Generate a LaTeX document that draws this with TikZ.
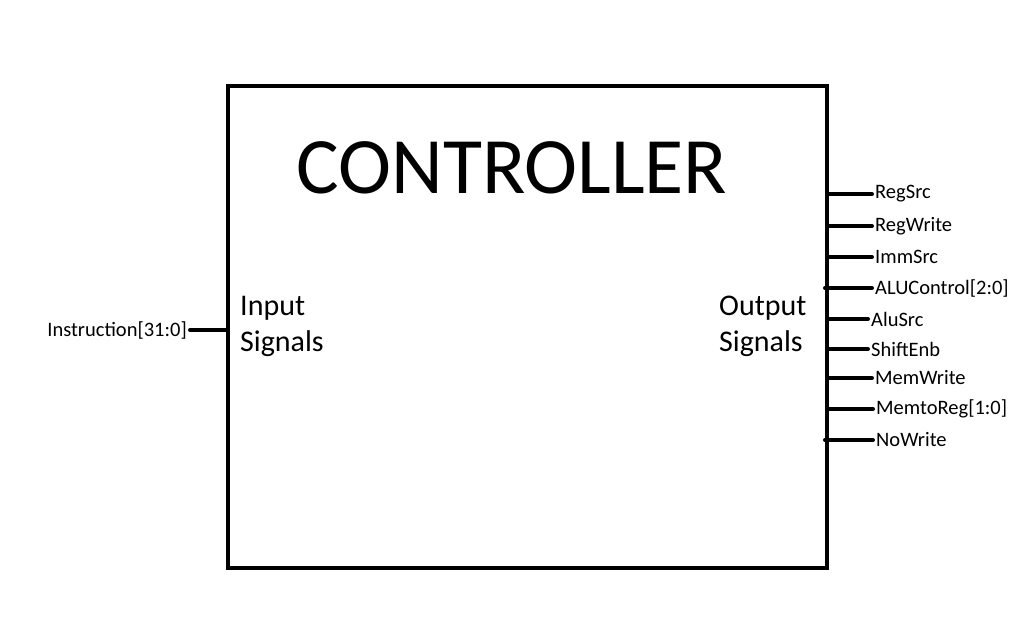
\documentclass[tikz,border=0pt]{standalone}
\usepackage{fontspec}
\setmainfont{Carlito}
\usepackage{tikz}

\begin{document}
\begin{tikzpicture}[x=1pt,y=-1pt,
  sig/.style={anchor=west,inner sep=3pt,font=\fontsize{20.5}{24}\selectfont},
  wire/.style={line width=4pt,line cap=round}]
\useasboundingbox (0,0) rectangle (1026,618);
\node [draw,line width=4pt,minimum width=599pt,minimum height=482pt,inner sep=0pt] (ctrl) at (527.5,327) {};
\node [anchor=base,font=\fontsize{80}{90}\selectfont] (title) at (512,193) {CONTROLLER};
\node [anchor=north west,align=left,inner sep=0pt,font=\fontsize{30}{36}\selectfont] (in) at (240,296) {Input\\Signals};
\node [anchor=north west,align=left,inner sep=0pt,font=\fontsize{30}{36}\selectfont] (out) at (719,296) {Output\\Signals};
% input
\node [sig,anchor=east] (instr) at (190,330) {Instruction[31:0]};
\draw [wire] (instr.east) -- (ctrl.west |- instr.east);
% outputs
\node [sig] (regsrc) at (872,194) {RegSrc};
\node [sig] (regwrite) at (872,226) {RegWrite};
\node [sig] (immsrc) at (872,257) {ImmSrc};
\node [sig] (aluctrl) at (872,288) {ALUControl[2:0]};
\node [sig] (alusrc) at (868,319) {AluSrc};
\node [sig] (shift) at (868,349) {ShiftEnb};
\node [sig] (memwrite) at (872,378) {MemWrite};
\node [sig] (memtoreg) at (873,409) {MemtoReg[1:0]};
\node [sig] (nowrite) at (873,440) {NoWrite};
\draw [wire] (ctrl.east |- regsrc.west) -- (regsrc.west);
\draw [wire] (ctrl.east |- regwrite.west) -- (regwrite.west);
\draw [wire] (ctrl.east |- immsrc.west) -- (immsrc.west);
\draw [wire] ([xshift=-4pt]ctrl.east |- aluctrl.west) -- (aluctrl.west);
\draw [wire] (ctrl.east |- alusrc.west) -- (alusrc.west);
\draw [wire] (ctrl.east |- shift.west) -- (shift.west);
\draw [wire] (ctrl.east |- memwrite.west) -- (memwrite.west);
\draw [wire] (ctrl.east |- memtoreg.west) -- (memtoreg.west);
\draw [wire] ([xshift=-4pt]ctrl.east |- nowrite.west) -- (nowrite.west);
\end{tikzpicture}
\end{document}
